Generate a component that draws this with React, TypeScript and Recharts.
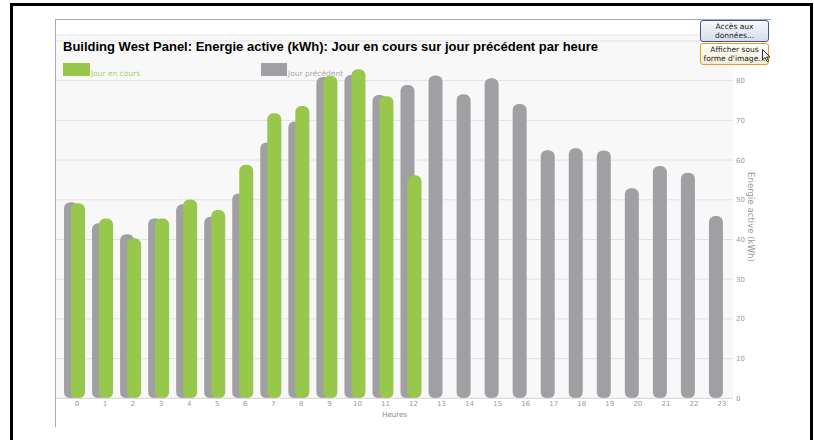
import { BarChart, Bar, XAxis, YAxis, CartesianGrid } from "recharts"

const hours = ["0", "1", "2", "3", "4", "5", "6", "7", "8", "9", "10", "11", "12", "13", "14", "15", "16", "17", "18", "19", "20", "21", "22", "23"]

// Jour précédent (gris)
const previousDay = [49.4, 44.1, 41.3, 45.3, 48.9, 45.7, 51.6, 64.4, 69.7, 80.9, 81.4, 76.4, 78.9, 81.3, 76.6, 80.6, 74.1, 62.5, 63.0, 62.4, 52.9, 58.5, 56.8, 45.9]

// Jour en cours (vert), seulement jusqu'à 12h
const currentDay = [49.1, 45.3, 40.3, 45.3, 50.1, 47.4, 58.8, 71.8, 73.6, 81.2, 82.9, 76.1, 56.2, null, null, null, null, null, null, null, null, null, null, null]

const yTicks = [0, 10, 20, 30, 40, 50, 60, 70, 80, 90]

const data = hours.map((h, i) => ({ hour: h, precedent: previousDay[i], enCours: currentDay[i] }))

const GREEN = "#97c84b"
const GRAY = "#a0a0a4"

const btnText: React.CSSProperties = {
  fontFamily: "'DejaVu Sans', sans-serif",
  fontSize: 7.5,
  lineHeight: "9px",
  color: "#222",
  textAlign: "center",
}

export default function App() {
  return (
    <div style={{ position: "absolute", left: 0, top: 0, width: 814, height: 440, overflow: "hidden", background: "#fff" }}>
      {/* outer black frame */}
      <div style={{ position: "absolute", left: 10, top: 3, width: 797, height: 460, border: "3px solid #000", borderBottom: "none" }} />
      {/* panel border */}
      <div style={{ position: "absolute", left: 55, top: 19, width: 715, height: 407, borderTop: "1px solid #aaa", borderLeft: "1px solid #aaa" }} />

      <div style={{ position: "absolute", left: 0, top: 0 }}>
        <BarChart width={814} height={440} data={data} margin={{ top: 35, right: 41, bottom: 17.7, left: 56 }} barGap={-7}>
          <CartesianGrid vertical={false} fill="#f8f8f8" stroke="#e2e2e2" />
          <XAxis
            dataKey="hour"
            interval={0}
            height={24}
            padding={{ left: 4, right: 0 }}
            tickLine={false}
            tickSize={3}
            tickMargin={0}
            axisLine={{ stroke: "#dcdcdc" }}
            tick={{ fill: "#999", fontSize: 7, fontFamily: "'DejaVu Sans', sans-serif", dx: 3 }}
            label={{ value: "Heures", position: "insideBottom", offset: 5, fill: "#888", fontSize: 7, fontFamily: "'DejaVu Sans', sans-serif" }}
          />
          <YAxis
            orientation="right"
            width={40}
            domain={[0, 91.5]}
            ticks={yTicks}
            axisLine={false}
            tickLine={false}
            tickSize={3}
            tickMargin={0}
            tickFormatter={(v: number) => (v === 90 ? "" : String(v))}
            tick={{ fill: "#999", fontSize: 7, fontFamily: "'DejaVu Sans', sans-serif" }}
          />
          <Bar dataKey="precedent" fill={GRAY} barSize={14} radius={6} isAnimationActive={false} />
          <Bar dataKey="enCours" fill={GREEN} barSize={14} radius={6} isAnimationActive={false} />
        </BarChart>
      </div>

      {/* title */}
      <div style={{ position: "absolute", left: 63, top: 39, fontFamily: "'Liberation Sans', Arial, sans-serif", fontWeight: "bold", fontSize: 13, color: "#000", whiteSpace: "nowrap" }}>
        Building West Panel: Energie active (kWh): Jour en cours sur jour précédent par heure
      </div>

      {/* legend */}
      <div style={{ position: "absolute", left: 63, top: 63, width: 27, height: 13, background: GREEN }} />
      <div style={{ position: "absolute", left: 91, top: 69, fontFamily: "'DejaVu Sans', sans-serif", fontSize: 7.5, lineHeight: "9px", color: "#a6cf6a", whiteSpace: "nowrap" }}>Jour en cours</div>
      <div style={{ position: "absolute", left: 261, top: 63, width: 26, height: 13, background: GRAY }} />
      <div style={{ position: "absolute", left: 288, top: 69, fontFamily: "'DejaVu Sans', sans-serif", fontSize: 7.5, lineHeight: "9px", color: "#aaa", whiteSpace: "nowrap" }}>Jour précédent</div>

      {/* y axis title */}
      <div style={{ position: "absolute", left: 746, top: 172, writingMode: "vertical-rl", fontFamily: "'DejaVu Sans', sans-serif", fontSize: 8.6, color: "#999", whiteSpace: "nowrap" }}>
        Energie active (kWh)
      </div>

      {/* buttons */}
      <div style={{ ...btnText, position: "absolute", left: 700, top: 20, width: 67, height: 19, paddingTop: 1, border: "1px solid #3d5b8a", borderRadius: 3, background: "linear-gradient(#f7f8fc, #d8dded)" }}>
        Accès aux<br />données...
      </div>
      <div style={{ ...btnText, position: "absolute", left: 700, top: 43, width: 67, height: 19, paddingTop: 1, border: "1px solid #e39a2e", borderRadius: 3, background: "linear-gradient(#fffffa, #f1ecd8)" }}>
        Afficher sous<br />forme d'image...
      </div>
      <svg style={{ position: "absolute", left: 762, top: 49 }} width={10} height={14}>
        <path d="M0.5 0.5 L0.5 11 L3 8.5 L5 12.5 L6.5 11.8 L4.6 8 L8 8 Z" fill="#fff" stroke="#000" strokeWidth={0.8} />
      </svg>
    </div>
  )
}
